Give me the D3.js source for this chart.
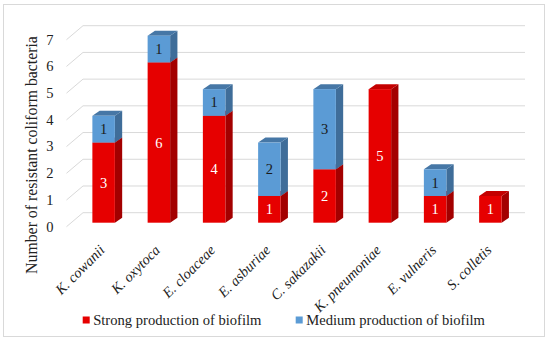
<!DOCTYPE html>
<html><head><meta charset="utf-8">
<script src="https://cdn.jsdelivr.net/npm/d3@7"></script>
<style>body{margin:0;background:#fff}svg{display:block}</style>
</head><body>
<script>
const categories = ["K. cowanii","K. oxytoca","E. cloaceae","E. asburiae","C. sakazakii","K. pneumoniae","E. vulneris","S. colletis"];
const strong = [3,6,4,1,2,5,1,1];
const medium = [1,1,1,2,3,0,1,0];
const yTicks = [0,1,2,3,4,5,6,7];
const seriesNames = ["Strong production of biofilm","Medium production of biofilm"];

const W=550,H=343;
const FONT='"Liberation Serif", "Times New Roman", serif';
const svg=d3.select("body").append("svg").attr("width",W).attr("height",H);
svg.append("rect").attr("x",3.5).attr("y",4.5).attr("width",541).attr("height",332)
  .attr("fill","#fff").attr("stroke","#d9d9d9").attr("stroke-width",1);

const y=d3.scaleLinear().domain([0,7]).range([212.7,25.7]);
const x=d3.scaleBand().domain(categories).range([83,525]).paddingInner(0).paddingOuter(0);
const wallDx=-16.5, wallDy=14;
const frontDx=-11.6, frontDy=10;
const depthDx=7.3, depthDy=-5;
const barW=22.5;

// gridlines
const g=svg.append("g");
yTicks.forEach(t=>{
  g.append("line").attr("x1",83).attr("x2",525).attr("y1",y(t)).attr("y2",y(t))
   .attr("stroke","#d9d9d9").attr("stroke-width",1);
  g.append("line").attr("x1",83).attr("x2",83+wallDx).attr("y1",y(t)).attr("y2",y(t)+wallDy)
   .attr("stroke","#d9d9d9").attr("stroke-width",1);
  g.append("text").attr("x",53.5).attr("y",y(t)+wallDy+1.5).attr("text-anchor","end")
   .attr("dominant-baseline","middle").attr("font-family",FONT).attr("font-size",14.5)
   .attr("fill","#222").text(t);
});

const colors={s:{front:"#E60000",side:"#A30000",top:"#C40000"},m:{front:"#5B9BD5",side:"#3F6D99",top:"#4677A6"}};

function box(x0,yTop,yBot,c){
  const bg=svg.append("g");
  bg.append("path").attr("d",`M${x0+barW},${yBot}L${x0+barW+depthDx},${yBot+depthDy}L${x0+barW+depthDx},${yTop+depthDy}L${x0+barW},${yTop}Z`).attr("fill",c.side);
  bg.append("path").attr("d",`M${x0},${yTop}L${x0+depthDx},${yTop+depthDy}L${x0+barW+depthDx},${yTop+depthDy}L${x0+barW},${yTop}Z`).attr("fill",c.top);
  bg.append("rect").attr("x",x0).attr("y",yTop).attr("width",barW).attr("height",yBot-yTop).attr("fill",c.front);
}

categories.forEach((cat,i)=>{
  const x0=x(cat)+x.bandwidth()/2-barW/2+frontDx+4.6;
  const s=strong[i], m=medium[i];
  const yb=y(0)+frontDy, ys=y(s)+frontDy, ym=y(s+m)+frontDy;
  if(s>0) box(x0,ys,yb,colors.s);
  if(m>0) box(x0,ym,ys,colors.m);
  if(s>0) svg.append("text").attr("x",x0+barW/2).attr("y",(ys+yb)/2).attr("text-anchor","middle")
     .attr("dominant-baseline","central").attr("font-family",FONT).attr("font-size",14.5).attr("fill","#fff").text(s);
  if(m>0) svg.append("text").attr("x",x0+barW/2).attr("y",(ym+ys)/2).attr("text-anchor","middle")
     .attr("dominant-baseline","central").attr("font-family",FONT).attr("font-size",14.5).attr("fill","#1a1a1a").text(m);
  const lx=x0+barW/2+2, ly=251;
  svg.append("text").attr("transform",`translate(${lx},${ly}) rotate(-45)`).attr("text-anchor","end")
    .attr("font-family",FONT).attr("font-style","italic").attr("font-size",14.5)
    .attr("fill","#222").text(cat);
});

svg.append("text").attr("transform","translate(31,155) rotate(-90)").attr("text-anchor","middle")
  .attr("dominant-baseline","central").attr("font-family",FONT).attr("font-size",15.8).attr("fill","#222")
  .text("Number of resistant coliform bacteria");

// legend
const leg=[{x:82.7,c:colors.s.front,t:seriesNames[0]},{x:295.7,c:colors.m.front,t:seriesNames[1]}];
leg.forEach(l=>{
  svg.append("rect").attr("x",l.x).attr("y",316.5).attr("width",7).attr("height",7).attr("fill",l.c);
  svg.append("text").attr("x",l.x+10.5).attr("y",320).attr("dominant-baseline","central").attr("font-family",FONT)
   .attr("font-size",14.6).attr("fill","#222").text(l.t);
});
</script>
</body></html>
